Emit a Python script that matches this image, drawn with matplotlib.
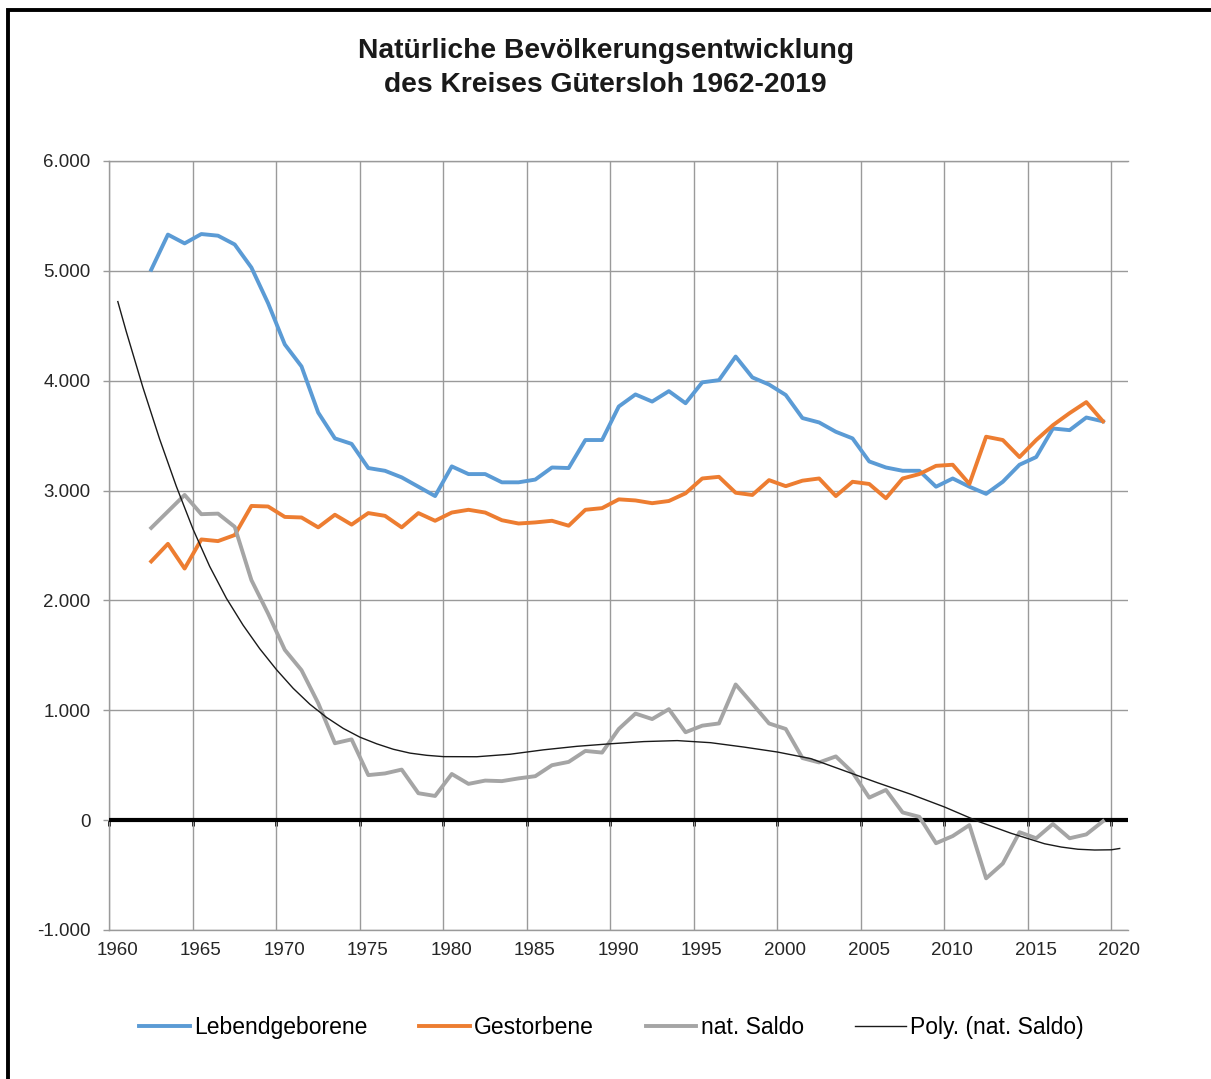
import matplotlib
matplotlib.use("Agg")
import matplotlib.pyplot as plt
import matplotlib.transforms as mtransforms
from matplotlib.patches import Rectangle

plt.rcParams['font.family'] = ['Liberation Sans', 'DejaVu Sans']

# data (Kreis Guetersloh, 1962-2019)
years = list(range(1962, 2020))

births = [5010, 5330, 5250, 5335, 5320, 5240, 5030, 4705, 4330, 4130,
          3710, 3475, 3425, 3205, 3180, 3120, 3035, 2950, 3220, 3150,
          3150, 3075, 3075, 3100, 3210, 3205, 3460, 3460, 3765, 3875,
          3810, 3905, 3795, 3985, 4005, 4220, 4030, 3965, 3870, 3660,
          3620, 3535, 3475, 3265, 3210, 3180, 3180, 3035, 3110, 3035,
          2970, 3080, 3235, 3305, 3565, 3550, 3665, 3630]

deaths = [2355, 2515, 2290, 2555, 2540, 2595, 2860, 2855, 2760, 2755,
          2665, 2780, 2690, 2795, 2770, 2665, 2795, 2725, 2800, 2825,
          2800, 2730, 2700, 2710, 2725, 2680, 2825, 2840, 2920, 2910,
          2885, 2905, 2975, 3110, 3125, 2980, 2960, 3095, 3040, 3090,
          3110, 2950, 3080, 3060, 2930, 3110, 3150, 3225, 3235, 3060,
          3490, 3460, 3305, 3460, 3595, 3705, 3805, 3630]

saldo = [2660, 2810, 2960, 2785, 2790, 2670, 2185, 1880, 1550, 1365,
         1065, 700, 735, 410, 425, 460, 245, 220, 420, 330,
         360, 355, 380, 400, 500, 530, 630, 615, 830, 970,
         920, 1010, 800, 860, 880, 1235, 1060, 880, 830, 565,
         525, 580, 435, 205, 275, 70, 30, -210, -145, -45,
         -530, -395, -110, -165, -35, -165, -130, -10]

# polynomial trend line
trend_x = [1960.5, 1961, 1962, 1963, 1964, 1965, 1966, 1967, 1968, 1969,
           1970, 1971, 1972, 1973, 1974, 1975, 1976, 1977, 1978, 1979,
           1980, 1982, 1984, 1986, 1988, 1990, 1992, 1994, 1996, 1998,
           2000, 2002, 2004, 2006, 2008, 2010, 2012, 2014, 2016, 2017,
           2018, 2019, 2020, 2020.5]
trend_y = [4720, 4450, 3940, 3470, 3040, 2650, 2310, 2020, 1775, 1560,
           1370, 1200, 1055, 935, 835, 755, 695, 645, 610, 590,
           578, 577, 600, 640, 672, 695, 715, 724, 705, 665,
           620, 560, 450, 340, 235, 120, -10, -120, -215, -245,
           -265, -272, -270, -258]

fig = plt.figure(figsize=(12.11, 10.79), dpi=100)
ax = fig.add_axes([0.0904, 0.1381, 0.8411, 0.7127])

# values sit in the middle of each year
xpos = [y + 0.5 for y in years]

ax.axhline(0, color='black', lw=3.0, zorder=3)
ax.plot(xpos, births, color='#5B9BD5', lw=2.8, label='Lebendgeborene', zorder=4)
ax.plot(xpos, deaths, color='#ED7D31', lw=2.8, label='Gestorbene', zorder=4)
ax.plot(xpos, saldo, color='#A5A5A5', lw=2.8, label='nat. Saldo', zorder=4)
ax.plot(trend_x, trend_y, color='#1a1a1a', lw=1.0, label='Poly. (nat. Saldo)', zorder=5)

ax.set_xlim(1960, 2021)
ax.set_ylim(-1000, 6000)
ax.set_xticks(range(1960, 2021, 5))
yt = list(range(-1000, 6001, 1000))
ax.set_yticks(yt)
ax.set_yticklabels([f"{v:,}".replace(',', '.') for v in yt])

grid_col = '#9a9a9a'
ax.grid(True, color=grid_col, lw=1.0, zorder=1)
ax.set_axisbelow(True)
for side in ['left', 'top', 'bottom']:
    ax.spines[side].set_color(grid_col)
    ax.spines[side].set_linewidth(1.0)
ax.spines['right'].set_visible(False)

ax.tick_params(axis='y', direction='out', length=4.5, width=1.0, color=grid_col,
               labelsize=13.5, labelcolor='#262626', pad=9)
ax.tick_params(axis='x', length=0, labelsize=13.5, labelcolor='#262626', pad=9)

# x labels sit slightly right of their gridlines in the original
shift = mtransforms.ScaledTranslation(8 / 100, 0, fig.dpi_scale_trans)
for lab in ax.get_xticklabels():
    lab.set_transform(lab.get_transform() + shift)

# small black tick marks under the zero line
zero_ax = ax.secondary_xaxis(1000 / 7000)
zero_ax.set_xticks(range(1960, 2021, 5))
zero_ax.spines['bottom'].set_visible(False)
zero_ax.tick_params(axis='x', direction='out', length=4, width=2.0, color='black',
                    labelbottom=False)

fig.text(0.5, 0.937, 'Natürliche Bevölkerungsentwicklung\ndes Kreises Gütersloh 1962-2019',
         ha='center', va='center', fontsize=20.3, fontweight='bold', color='#1a1a1a',
         linespacing=1.37)

fig.legend(loc='center', bbox_to_anchor=(0.505, 0.0473), ncol=4, frameon=False,
           fontsize=16.5, handlelength=2.2, handletextpad=0.2, columnspacing=2.25)

# outer frame (only top and left edge visible)
fig.patches.append(Rectangle((8 / 1211, -0.1), 1.2, 1.1 - 10 / 1079,
                             transform=fig.transFigure, fill=False,
                             edgecolor='black', lw=2.8, clip_on=False))

fig.savefig('out.png', dpi=100)
